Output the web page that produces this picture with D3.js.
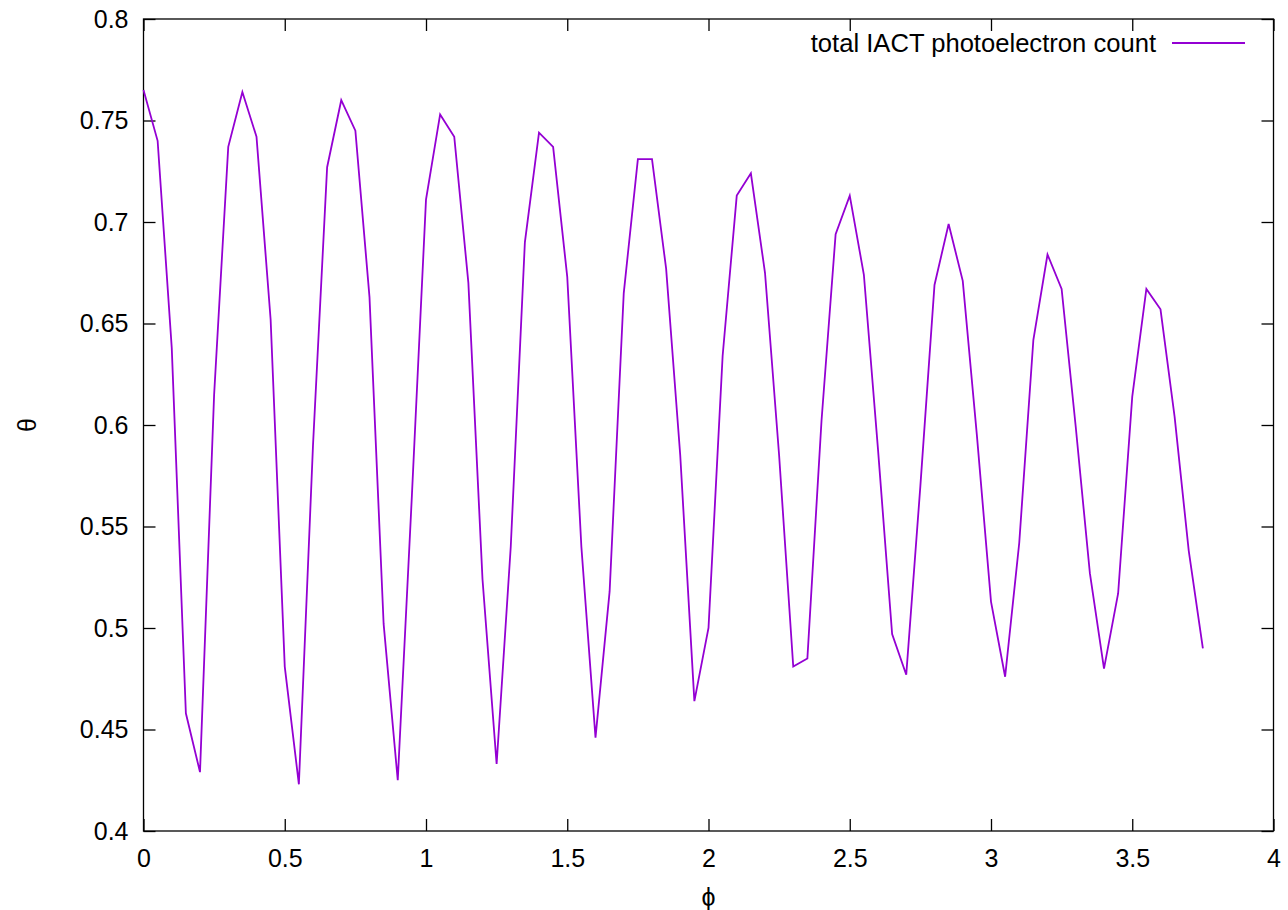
<!DOCTYPE html>
<html>
<head>
<meta charset="utf-8">
<script src="https://cdn.jsdelivr.net/npm/d3@7"></script>
<style>
  html, body { margin: 0; padding: 0; background: #fff; }
  svg { display: block; }
  text { font-family: "Liberation Sans", Arial, Helvetica, sans-serif; fill: #000; }
</style>
</head>
<body>
<svg id="chart" width="1288" height="910"></svg>
<script>
// ---- data ----
const phi = [
  0.00,0.05,0.10,0.15,0.20,0.25,0.30,0.35,0.40,0.45,
  0.50,0.55,0.60,0.65,0.70,0.75,0.80,0.85,0.90,0.95,
  1.00,1.05,1.10,1.15,1.20,1.25,1.30,1.35,1.40,1.45,
  1.50,1.55,1.60,1.65,1.70,1.75,1.80,1.85,1.90,1.95,
  2.00,2.05,2.10,2.15,2.20,2.25,2.30,2.35,2.40,2.45,
  2.50,2.55,2.60,2.65,2.70,2.75,2.80,2.85,2.90,2.95,
  3.00,3.05,3.10,3.15,3.20,3.25,3.30,3.35,3.40,3.45,
  3.50,3.55,3.60,3.65,3.70,3.75
];
const theta = [
  0.765,0.740,0.638,0.458,0.429,0.615,0.737,0.764,0.742,0.652,
  0.481,0.423,0.590,0.727,0.760,0.745,0.663,0.502,0.425,0.565,
  0.711,0.753,0.742,0.670,0.524,0.433,0.540,0.690,0.744,0.737,
  0.673,0.540,0.446,0.518,0.665,0.731,0.731,0.677,0.585,0.464,
  0.500,0.634,0.713,0.724,0.675,0.585,0.481,0.485,0.602,0.694,
  0.713,0.674,0.588,0.497,0.477,0.570,0.669,0.699,0.671,0.595,
  0.513,0.476,0.542,0.642,0.684,0.667,0.599,0.527,0.480,0.517,
  0.614,0.667,0.657,0.604,0.538,0.490
];
const xTicks = [0, 0.5, 1, 1.5, 2, 2.5, 3, 3.5, 4];
const xTickLabels = ["0", "0.5", "1", "1.5", "2", "2.5", "3", "3.5", "4"];
const yTicks = [0.4, 0.45, 0.5, 0.55, 0.6, 0.65, 0.7, 0.75, 0.8];
const yTickLabels = ["0.4", "0.45", "0.5", "0.55", "0.6", "0.65", "0.7", "0.75", "0.8"];
const seriesName = "total IACT photoelectron count";
const xLabel = "\u03d5";
const yLabel = "\u03b8";

// ---- layout ----
const svg = d3.select("#chart");
const L = 143.5, R = 1273.5, T = 19, B = 831;
const x = d3.scaleLinear().domain([0, 4]).range([L, R]);
const y = d3.scaleLinear().domain([0.4, 0.8]).range([B, T]);
const fs = 25;
const tickLen = 12;
const lineColor = "#9400d3";

const fmtX = (d) => xTickLabels[xTicks.indexOf(d)];
const fmtY = (d) => yTickLabels[yTicks.indexOf(d)];

const gB = svg.append("g").attr("transform", `translate(0,${B})`)
  .call(d3.axisBottom(x).tickValues(xTicks).tickFormat(fmtX).tickSizeInner(-tickLen).tickSizeOuter(0).tickPadding(18));
const gT = svg.append("g").attr("transform", `translate(0,${T})`)
  .call(d3.axisTop(x).tickValues(xTicks).tickFormat("").tickSizeInner(-tickLen).tickSizeOuter(0));
const gL = svg.append("g").attr("transform", `translate(${L},0)`)
  .call(d3.axisLeft(y).tickValues(yTicks).tickFormat(fmtY).tickSizeInner(-tickLen).tickSizeOuter(0).tickPadding(15));
const gR = svg.append("g").attr("transform", `translate(${R},0)`)
  .call(d3.axisRight(y).tickValues(yTicks).tickFormat("").tickSizeInner(-tickLen).tickSizeOuter(0));

[gB, gT, gL, gR].forEach(g => {
  g.select(".domain").remove();
  g.selectAll(".tick line").attr("stroke", "#000").attr("stroke-width", 1.3);
  g.selectAll(".tick text").attr("font-size", fs).attr("font-family", "'Liberation Sans', Arial, sans-serif").attr("fill", "#000");
});

// border
svg.append("rect")
  .attr("x", L).attr("y", T).attr("width", R - L).attr("height", B - T)
  .attr("fill", "none").attr("stroke", "#000").attr("stroke-width", 1.3);

// data line
const pts = phi.map((p, i) => [p, theta[i]]);
svg.append("path")
  .datum(pts)
  .attr("fill", "none")
  .attr("stroke", lineColor)
  .attr("stroke-width", 1.8)
  .attr("stroke-linejoin", "miter")
  .attr("d", d3.line().x(d => x(d[0])).y(d => y(d[1])));

// legend
svg.append("text")
  .attr("x", 1156).attr("y", 52)
  .attr("text-anchor", "end")
  .attr("font-size", 25.6)
  .text(seriesName);
svg.append("line")
  .attr("x1", 1172).attr("x2", 1245).attr("y1", 43).attr("y2", 43)
  .attr("stroke", lineColor).attr("stroke-width", 1.8);

// axis labels
svg.append("text")
  .attr("x", (L + R) / 2).attr("y", 906)
  .attr("text-anchor", "middle")
  .attr("font-size", fs)
  .attr("font-family", "'DejaVu Sans', 'Liberation Sans', sans-serif")
  .text(xLabel);
svg.append("text")
  .attr("transform", `translate(36,${(T + B) / 2}) rotate(-90)`)
  .attr("text-anchor", "middle")
  .attr("font-size", fs)
  .text(yLabel);
</script>
</body>
</html>
